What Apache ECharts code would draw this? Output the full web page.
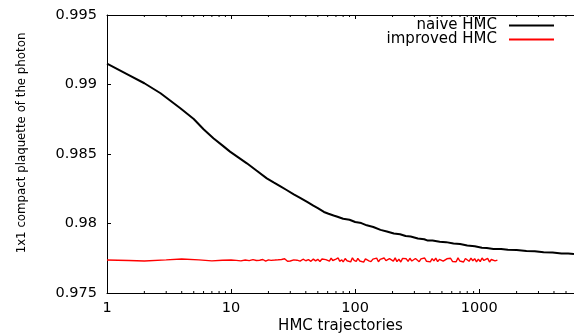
<!DOCTYPE html>
<html>
<head>
<meta charset="utf-8">
<script src="https://cdn.jsdelivr.net/npm/echarts@6/dist/echarts.min.js"></script>
<style>
  html, body { margin: 0; padding: 0; background: #fff; }
  #EChart { width: 574px; height: 336px; }
</style>
</head>
<body>
<div id="EChart"></div>
<script>
// naive HMC
var naiveX = [1, 1.5, 2, 2.7, 3.9, 5, 6, 7.2, 8.5, 9.8, 11.5, 13.4, 16, 19.4, 22,
  25, 28, 32, 36, 41, 46, 50, 56, 61, 67, 72, 80, 90, 100, 112, 124, 140, 160, 180,
  205, 230, 255, 280, 320, 360, 370, 385, 420, 480, 540, 620, 700, 800, 920, 1050,
  1150, 1300, 1500, 1700, 2000, 2400, 2800, 3300, 3900, 4600, 5200, 5800];
var naiveY = [0.99150, 0.99068, 0.99009, 0.98937, 0.98829, 0.98752, 0.98678, 0.98613,
  0.98562, 0.98517, 0.98474, 0.98433, 0.98381, 0.98325, 0.98296, 0.98267, 0.98241,
  0.98210, 0.98184, 0.98155, 0.98128, 0.98110, 0.98083, 0.98070, 0.98058, 0.98049,
  0.98034, 0.98027, 0.98011, 0.98003, 0.97987, 0.97975, 0.97954, 0.97943, 0.97928,
  0.97923, 0.97910, 0.97906, 0.97892, 0.97887, 0.97889, 0.97877, 0.97877, 0.97868,
  0.97866, 0.97856, 0.97852, 0.97841, 0.97836, 0.97825, 0.97823, 0.97817, 0.97817,
  0.97811, 0.97810, 0.97802, 0.97801, 0.97793, 0.97792, 0.97785, 0.97785, 0.97781];

// improved HMC
var improvedX = [1, 1.5, 2, 3, 4, 5.5, 7, 8.5, 10, 11,
  12, 13, 14, 15, 16, 17, 18, 19, 20, 21,
  22.5, 24, 25.5, 27, 28.5, 30, 32, 34, 36, 38,
  40, 42, 44, 46, 48, 50, 52, 54, 56, 58,
  60, 62, 64, 66, 68, 70, 73, 75, 78, 80,
  83, 86, 89, 92, 95, 98, 102, 105, 109, 113,
  117, 121, 125, 129, 134, 139, 144, 149, 154, 159,
  165, 171, 177, 183, 189, 196, 203, 210, 217, 225,
  233, 241, 249, 258, 267, 276, 286, 296, 306, 317,
  328, 339, 351, 363, 376, 389, 403, 417, 431, 446,
  462, 478, 495, 512, 530, 548, 567, 587, 608, 629,
  651, 674, 697, 722, 747, 773, 800, 828, 857, 887,
  918, 950, 983, 1018, 1053, 1090, 1128, 1168, 1209, 1251,
  1295, 1340, 1400];
var improvedY = [0.97737, 0.97734, 0.97730, 0.97738, 0.97745, 0.97738, 0.97731, 0.97736, 0.97737, 0.97735,
  0.97731, 0.97737, 0.97733, 0.97740, 0.97734, 0.97736, 0.97741, 0.97729, 0.97738, 0.97735,
  0.97737, 0.97739, 0.97741, 0.97746, 0.97728, 0.97730, 0.97738, 0.97736, 0.97729, 0.97743,
  0.97732, 0.97740, 0.97728, 0.97744, 0.97731, 0.97742, 0.97727, 0.97745, 0.97733, 0.97740,
  0.97747, 0.97729, 0.97751, 0.97734, 0.97725, 0.97743, 0.97752, 0.97728, 0.97739, 0.97723,
  0.97748, 0.97732, 0.97745, 0.97724, 0.97753, 0.97735, 0.97727, 0.97749, 0.97730, 0.97741,
  0.97722, 0.97746, 0.97750, 0.97731, 0.97726, 0.97744, 0.97736, 0.97751, 0.97725, 0.97742,
  0.97728, 0.97752, 0.97733, 0.97724, 0.97747, 0.97740, 0.97729, 0.97753, 0.97726, 0.97743,
  0.97723, 0.97749, 0.97735, 0.97746, 0.97727, 0.97750, 0.97730, 0.97722, 0.97748, 0.97741,
  0.97725, 0.97745, 0.97734, 0.97752, 0.97728, 0.97738, 0.97724, 0.97747, 0.97731, 0.97751,
  0.97726, 0.97742, 0.97749, 0.97729, 0.97722, 0.97746, 0.97733, 0.97750, 0.97727, 0.97739,
  0.97725, 0.97753, 0.97730, 0.97743, 0.97723, 0.97748, 0.97736, 0.97728, 0.97751, 0.97732,
  0.97747, 0.97724, 0.97744, 0.97726, 0.97752, 0.97734, 0.97729, 0.97749, 0.97723, 0.97741,
  0.97746, 0.97731, 0.97737];

var xMin = 1, xMax = 5800;
var yMin = 0.975, yMax = 0.995, yStep = 0.005;
var minorTicks = [2, 3, 4, 5, 6, 7, 8, 9, 20, 30, 40, 50, 60, 70, 80, 90,
  200, 300, 400, 500, 600, 700, 800, 900, 2000, 3000, 4000, 5000];

var font = 'DejaVu Sans';

function zip(xs, ys) {
    return xs.map(function (x, i) { return [x, ys[i]]; });
}

var EChart = echarts.init(document.getElementById('EChart'), null, { renderer: 'canvas' });

var config = {
    animation: false,
    backgroundColor: '#fff',
    grid: { left: 107, right: 0, top: 15, bottom: 43, containLabel: false, outerBoundsMode: 'none' },
    legend: {
        data: ['naive HMC', 'improved HMC'],
        orient: 'vertical',
        right: 15,
        top: 13,
        align: 'right',
        icon: 'rect',
        itemWidth: 45,
        itemHeight: 2,
        itemGap: -1,
        textStyle: { fontFamily: font, fontSize: 15, color: '#000', lineHeight: 15, padding: [0, 7, 0, 0] }
    },
    xAxis: [{
        type: 'log',
        logBase: 10,
        min: xMin,
        max: xMax,
        name: 'HMC trajectories',
        nameLocation: 'middle',
        nameGap: 26,
        nameMoveOverlap: false,
        nameTextStyle: { fontFamily: font, fontSize: 15, color: '#000' },
        axisLine: { lineStyle: { color: '#000', width: 1 } },
        axisTick: { inside: true, length: 4, lineStyle: { color: '#000' } },
        axisLabel: {
            margin: 8,
            fontFamily: font, fontSize: 14.5, color: '#000',
            formatter: function (v) {
                var l = Math.log10(v);
                return Math.abs(l - Math.round(l)) < 1e-6 ? String(Math.round(v)) : '';
            }
        },
        splitLine: { show: false }
    }, {
        type: 'log',
        logBase: 10,
        min: xMin,
        max: xMax,
        position: 'top',
        axisLine: { lineStyle: { color: '#000', width: 1 } },
        axisTick: { inside: true, length: 4, lineStyle: { color: '#000' } },
        axisLabel: { show: false },
        splitLine: { show: false }
    }],
    yAxis: {
        type: 'value',
        min: yMin,
        max: yMax,
        interval: yStep,
        name: '1x1 compact plaquette of the photon',
        nameLocation: 'middle',
        nameGap: 79,
        nameMoveOverlap: false,
        nameTextStyle: { fontFamily: font, fontSize: 11.8, color: '#000', padding: [0, 0, 0, 22] },
        axisLine: { show: true, lineStyle: { color: '#000', width: 1 } },
        axisTick: { show: true, inside: true, length: 4, lineStyle: { color: '#000' } },
        axisLabel: {
            margin: 10,
            fontFamily: font, fontSize: 14.5, color: '#000',
            formatter: function (v) { return String(parseFloat(v.toFixed(3))); }
        },
        splitLine: { show: false }
    },
    series: [{
        name: 'naive HMC',
        type: 'line',
        data: zip(naiveX, naiveY),
        symbol: 'none',
        lineStyle: { color: '#000', width: 2 },
        itemStyle: { color: '#000' }
    }, {
        name: 'improved HMC',
        type: 'line',
        data: zip(improvedX, improvedY),
        symbol: 'none',
        lineStyle: { color: '#ff0000', width: 1.4 },
        itemStyle: { color: '#ff0000' }
    }, {
        // minor ticks of the log axis, bottom and top
        type: 'custom',
        silent: true,
        clip: false,
        data: minorTicks.map(function (v) { return [v, yMin]; }),
        encode: { x: 0, y: 1 },
        renderItem: function (params, api) {
            var b = api.coord([api.value(0), yMin]);
            var t = api.coord([api.value(0), yMax]);
            var st = { stroke: '#000', lineWidth: 1 };
            return {
                type: 'group',
                children: [
                    { type: 'line', shape: { x1: b[0], y1: b[1], x2: b[0], y2: b[1] - 2 }, style: st },
                    { type: 'line', shape: { x1: t[0], y1: t[1], x2: t[0], y2: t[1] + 2 }, style: st }
                ]
            };
        }
    }]
};

EChart.setOption(config);
</script>
</body>
</html>
